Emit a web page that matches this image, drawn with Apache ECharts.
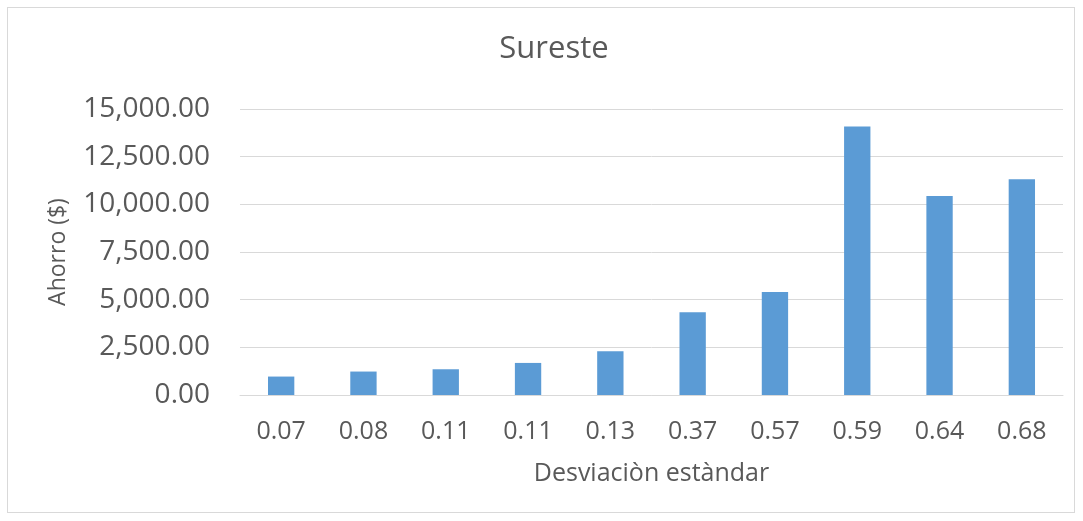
<!DOCTYPE html>
<html>
<head>
<meta charset="utf-8">
<script src="https://cdn.jsdelivr.net/npm/echarts@6/dist/echarts.min.js"></script>
<style>
  html, body { margin: 0; padding: 0; background: #fff; }
  #frame { position: absolute; left: 7px; top: 7px; width: 1068px; height: 506px; border: 1px solid #d9d9d9; box-sizing: border-box; }
  #chart { width: 1083px; height: 521px; position: absolute; left: 0; top: 0; }
</style>
</head>
<body>
<div id="frame"></div>
<div id="chart"></div>
<script>
const categories = ["0.07", "0.08", "0.11", "0.11", "0.13", "0.37", "0.57", "0.59", "0.64", "0.68"];
const ahorro = [967, 1230, 1350, 1682, 2297, 4346, 5397, 14085, 10443, 11316];

const textColor = "#595959";
const fontFamily = "'Open Sans', 'Liberation Sans', sans-serif";

const chart = echarts.init(document.getElementById("chart"), null, { renderer: "canvas" });
chart.setOption({
  animation: false,
  title: {
    text: "Sureste",
    left: 549,
    top: 29,
    textAlign: "center",
    textStyle: { color: textColor, fontSize: 31, fontWeight: "normal", fontFamily: fontFamily }
  },
  grid: { left: 240, right: 20, top: 109, bottom: 126, containLabel: false },
  xAxis: {
    type: "category",
    data: categories,
    name: "Desviaciòn estàndar",
    nameLocation: "middle",
    nameGap: 66,
    nameTextStyle: { color: textColor, fontSize: 25, fontFamily: fontFamily },
    axisLine: { show: true, lineStyle: { color: "#d9d9d9", width: 1 } },
    axisTick: { show: false },
    axisLabel: { color: textColor, fontSize: 25, margin: 24, fontFamily: fontFamily, interval: 0 }
  },
  yAxis: {
    type: "value",
    min: 0,
    max: 15000,
    interval: 2500,
    name: "Ahorro ($)",
    nameLocation: "middle",
    nameGap: 170,
    nameTextStyle: { color: textColor, fontSize: 23, fontFamily: fontFamily },
    axisLine: { show: false },
    axisTick: { show: false },
    splitLine: { lineStyle: { color: "#d9d9d9", width: 1 } },
    axisLabel: {
      color: textColor,
      fontSize: 28,
      margin: 30,
      fontFamily: fontFamily,
      formatter: v => v.toLocaleString("en-US", { minimumFractionDigits: 2, maximumFractionDigits: 2 })
    }
  },
  series: [{
    type: "bar",
    data: ahorro,
    barWidth: "32%",
    itemStyle: { color: "#5b9bd5" }
  }]
});
</script>
</body>
</html>
